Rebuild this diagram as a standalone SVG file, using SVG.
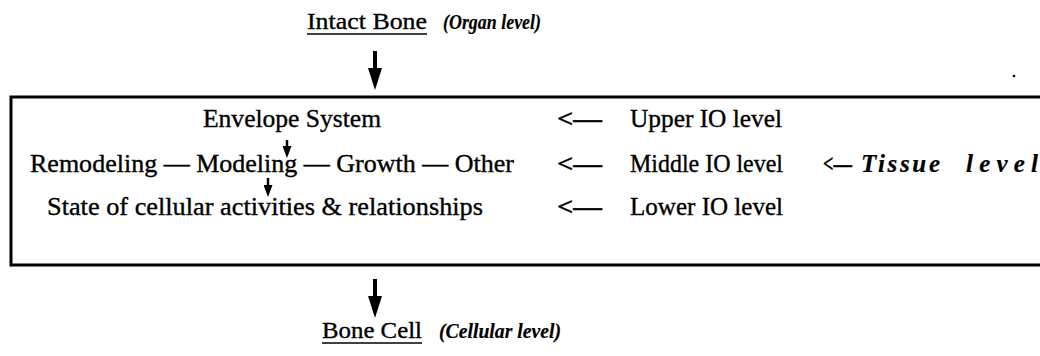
<svg xmlns="http://www.w3.org/2000/svg" width="1040" height="356" viewBox="0 0 1040 356">
<style>
text{stroke:#000;stroke-width:0.35px}
.t{font-family:"Liberation Serif","Times New Roman",serif;font-size:25px;fill:#000}
.h{font-family:"Liberation Serif","Times New Roman",serif;font-size:23px;fill:#000}
.bi{font-family:"Liberation Serif","Times New Roman",serif;font-size:22px;font-style:italic;font-weight:bold;fill:#000;stroke-width:0.2px}
.bl{font-size:25px}
.ln{stroke:#000;stroke-width:3;fill:none}
.ar{stroke:#000;stroke-width:4;fill:none}
.sa{stroke:#000;stroke-width:2.5;fill:none}
.ul{stroke:#000;stroke-width:1.5}
</style>
<defs>
<marker id="big" viewBox="0 0 22 14" refX="6" refY="7" markerWidth="22" markerHeight="14" markerUnits="userSpaceOnUse" orient="auto">
<path d="M0,0 L22,7 L0,14 Z" fill="#000"/>
</marker>
<marker id="small" viewBox="0 0 12 9" refX="4" refY="4.5" markerWidth="12" markerHeight="9" markerUnits="userSpaceOnUse" orient="auto">
<path d="M0,0 L12,4.5 L0,9 Z" fill="#000"/>
</marker>
</defs>
<rect width="1040" height="356" fill="#fff"/>
<g id="frame"><path class="ln" d="M1040,97 H11 V265 H1040"/></g>
<g id="intact-bone">
<text class="h" x="307" y="29" textLength="120" lengthAdjust="spacingAndGlyphs">Intact Bone</text>
<line class="ul" x1="307" y1="34" x2="427" y2="34"/>
<text class="bi" x="443" y="29" textLength="98" lengthAdjust="spacingAndGlyphs">(Organ level)</text>
</g>
<g id="envelope-system"><text class="t" x="203" y="127" textLength="178" lengthAdjust="spacingAndGlyphs">Envelope System</text></g>
<g id="processes"><text class="t" x="30" y="172" textLength="484" lengthAdjust="spacingAndGlyphs">Remodeling — Modeling — Growth — Other</text></g>
<g id="cellular-state"><text class="t" x="47" y="215" textLength="436" lengthAdjust="spacingAndGlyphs">State of cellular activities &amp; relationships</text></g>
<g id="upper-io"><text class="t" x="557" y="127" font-weight="bold" textLength="45" lengthAdjust="spacingAndGlyphs">&lt;—</text><text class="t" x="630" y="127" textLength="152" lengthAdjust="spacingAndGlyphs">Upper IO level</text></g>
<g id="middle-io"><text class="t" x="557" y="172" font-weight="bold" textLength="45" lengthAdjust="spacingAndGlyphs">&lt;—</text><text class="t" x="630" y="172" textLength="153" lengthAdjust="spacingAndGlyphs">Middle IO level</text></g>
<g id="tissue-level"><text class="t" x="823" y="172" font-weight="bold" textLength="29" lengthAdjust="spacingAndGlyphs">&lt;—</text><text class="bi bl" x="861" y="172" textLength="79" lengthAdjust="spacing">Tissue</text><text class="bi bl" x="966" y="172" textLength="72" lengthAdjust="spacing">level</text></g>
<g id="lower-io"><text class="t" x="557" y="215" font-weight="bold" textLength="45" lengthAdjust="spacingAndGlyphs">&lt;—</text><text class="t" x="630" y="215" textLength="153" lengthAdjust="spacingAndGlyphs">Lower IO level</text></g>
<g id="bone-cell">
<text class="h" x="322" y="338" textLength="100" lengthAdjust="spacingAndGlyphs">Bone Cell</text>
<line class="ul" x1="322" y1="343" x2="422" y2="343"/>
<text class="bi" x="439" y="338" textLength="122" lengthAdjust="spacingAndGlyphs">(Cellular level)</text>
</g>
<g id="connectors">
<line class="ar" x1="375" y1="51" x2="375" y2="74" marker-end="url(#big)"/>
<line class="ar" x1="375" y1="279" x2="375" y2="302" marker-end="url(#big)"/>
<line class="sa" x1="287" y1="140" x2="287" y2="150" marker-end="url(#small)"/>
<line class="sa" x1="268" y1="178" x2="268" y2="189" marker-end="url(#small)"/>
</g>
<circle cx="1014" cy="76" r="1.3" fill="#000"/>
</svg>
